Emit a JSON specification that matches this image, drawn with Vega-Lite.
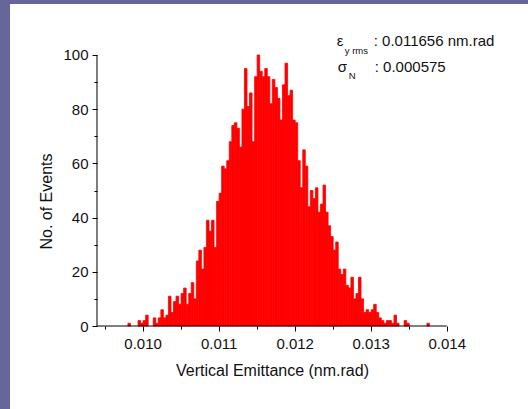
{
  "$schema": "https://vega.github.io/schema/vega-lite/v6.json",
  "autosize": {"type": "none"},
  "width": 518,
  "height": 405,
  "padding": {"left": 10, "top": 4, "right": 0, "bottom": 0},
  "background": "#66669a",
  "config": {
    "view": {"fill": "white", "stroke": null},
    "font": "Liberation Sans",
    "axis": {"grid": false, "domain": false, "labelFont": "Liberation Sans", "titleFont": "Liberation Sans", "labelColor": "#111", "titleColor": "#111", "tickColor": "#000", "tickWidth": 1, "titleFontWeight": "normal", "labelOverlap": false, "labelFlush": false, "labelBound": false},
    "text": {"align": "left", "baseline": "alphabetic", "color": "#111", "font": "Liberation Sans"}
  },
  "layer": [
    {
      "data": {"values": [
        {"emittance": 0.0098, "events": 1},
        {"emittance": 0.0099333, "events": 2},
        {"emittance": 0.0099667, "events": 1},
        {"emittance": 0.0100, "events": 2},
        {"emittance": 0.0100333, "events": 4},
        {"emittance": 0.0101333, "events": 3},
        {"emittance": 0.0101667, "events": 1},
        {"emittance": 0.0102, "events": 3},
        {"emittance": 0.0102333, "events": 6},
        {"emittance": 0.0102667, "events": 3},
        {"emittance": 0.0103, "events": 4},
        {"emittance": 0.0103333, "events": 11},
        {"emittance": 0.0103667, "events": 5},
        {"emittance": 0.0104, "events": 9},
        {"emittance": 0.0104333, "events": 11},
        {"emittance": 0.0104667, "events": 8},
        {"emittance": 0.0105, "events": 12},
        {"emittance": 0.0105333, "events": 14},
        {"emittance": 0.0105667, "events": 8},
        {"emittance": 0.0106, "events": 12},
        {"emittance": 0.0106333, "events": 16},
        {"emittance": 0.0106667, "events": 10},
        {"emittance": 0.0107, "events": 24},
        {"emittance": 0.0107333, "events": 28},
        {"emittance": 0.0107667, "events": 21},
        {"emittance": 0.0108, "events": 29},
        {"emittance": 0.0108333, "events": 39},
        {"emittance": 0.0108667, "events": 35},
        {"emittance": 0.0109, "events": 39},
        {"emittance": 0.0109333, "events": 29},
        {"emittance": 0.0109667, "events": 46},
        {"emittance": 0.0110, "events": 49},
        {"emittance": 0.0110333, "events": 59},
        {"emittance": 0.0110667, "events": 58},
        {"emittance": 0.0111, "events": 61},
        {"emittance": 0.0111333, "events": 68},
        {"emittance": 0.0111667, "events": 74},
        {"emittance": 0.0112, "events": 75},
        {"emittance": 0.0112333, "events": 73},
        {"emittance": 0.0112667, "events": 66},
        {"emittance": 0.0113, "events": 80},
        {"emittance": 0.0113333, "events": 95},
        {"emittance": 0.0113667, "events": 81},
        {"emittance": 0.0114, "events": 86},
        {"emittance": 0.0114333, "events": 68},
        {"emittance": 0.0114667, "events": 92},
        {"emittance": 0.0115, "events": 100},
        {"emittance": 0.0115333, "events": 94},
        {"emittance": 0.0115667, "events": 92},
        {"emittance": 0.0116, "events": 95},
        {"emittance": 0.0116333, "events": 92},
        {"emittance": 0.0116667, "events": 82},
        {"emittance": 0.0117, "events": 91},
        {"emittance": 0.0117333, "events": 88},
        {"emittance": 0.0117667, "events": 84},
        {"emittance": 0.0118, "events": 76},
        {"emittance": 0.0118333, "events": 89},
        {"emittance": 0.0118667, "events": 97},
        {"emittance": 0.0119, "events": 85},
        {"emittance": 0.0119333, "events": 87},
        {"emittance": 0.0119667, "events": 76},
        {"emittance": 0.0120, "events": 75},
        {"emittance": 0.0120333, "events": 61},
        {"emittance": 0.0120667, "events": 51},
        {"emittance": 0.0121, "events": 65},
        {"emittance": 0.0121333, "events": 59},
        {"emittance": 0.0121667, "events": 44},
        {"emittance": 0.0122, "events": 50},
        {"emittance": 0.0122333, "events": 47},
        {"emittance": 0.0122667, "events": 51},
        {"emittance": 0.0123, "events": 42},
        {"emittance": 0.0123333, "events": 45},
        {"emittance": 0.0123667, "events": 52},
        {"emittance": 0.0124, "events": 42},
        {"emittance": 0.0124333, "events": 37},
        {"emittance": 0.0124667, "events": 33},
        {"emittance": 0.0125, "events": 28},
        {"emittance": 0.0125333, "events": 31},
        {"emittance": 0.0125667, "events": 21},
        {"emittance": 0.0126, "events": 19},
        {"emittance": 0.0126333, "events": 21},
        {"emittance": 0.0126667, "events": 15},
        {"emittance": 0.0127, "events": 14},
        {"emittance": 0.0127333, "events": 18},
        {"emittance": 0.0127667, "events": 10},
        {"emittance": 0.0128, "events": 12},
        {"emittance": 0.0128333, "events": 18},
        {"emittance": 0.0128667, "events": 10},
        {"emittance": 0.0129, "events": 5},
        {"emittance": 0.0129333, "events": 6},
        {"emittance": 0.0129667, "events": 5},
        {"emittance": 0.0130, "events": 6},
        {"emittance": 0.0130333, "events": 8},
        {"emittance": 0.0130667, "events": 5},
        {"emittance": 0.0131, "events": 3},
        {"emittance": 0.0131333, "events": 2},
        {"emittance": 0.0131667, "events": 1},
        {"emittance": 0.0132, "events": 2},
        {"emittance": 0.0132333, "events": 2},
        {"emittance": 0.0132667, "events": 1},
        {"emittance": 0.0133, "events": 4},
        {"emittance": 0.0133333, "events": 1},
        {"emittance": 0.0134333, "events": 2},
        {"emittance": 0.0134667, "events": 1},
        {"emittance": 0.0137333, "events": 1}
      ]},
      "mark": {"type": "bar", "color": "#ff0000", "stroke": "#ff0000", "strokeWidth": 0.8, "binSpacing": 0},
      "encoding": {
        "x": {
          "field": "emittance", "type": "quantitative",
          "bin": {"binned": true, "step": 0.0000333333},
          "scale": {"domain": [0.0082556, 0.0150694], "nice": false, "zero": false},
          "axis": {
            "values": [0.0095, 0.010, 0.0105, 0.011, 0.0115, 0.012, 0.0125, 0.013, 0.0135, 0.014],
            "labelExpr": "round(datum.value*10000) % 10 == 0 ? format(datum.value, '.3f') : ''",
            "tickSize": {"condition": {"test": "round(datum.value*10000) % 10 == 0", "value": 5}, "value": 3},
            "offset": -83,
            "labelPadding": 5,
            "labelFontSize": 15,
            "title": "Vertical Emittance (nm.rad)",
            "titleFontSize": 16,
            "titlePadding": 11,
            "titleX": 262
          }
        },
        "y": {
          "field": "events", "type": "quantitative",
          "scale": {"domain": [-30.627, 118.819], "nice": false, "zero": false},
          "axis": {
            "values": [0, 10, 20, 30, 40, 50, 60, 70, 80, 90, 100],
            "labelExpr": "datum.value % 20 == 0 ? datum.label : ''",
            "tickSize": {"condition": {"test": "datum.value % 20 == 0", "value": 5}, "value": 3},
            "offset": -87,
            "labelPadding": 4,
            "labelFontSize": 15,
            "title": "No. of Events",
            "titleFontSize": 16,
            "titlePadding": 8,
            "titleY": 197
          }
        }
      }
    },
    {
      "data": {"values": [{}]},
      "mark": {"type": "rule", "color": "#000", "strokeWidth": 1},
      "encoding": {"x": {"datum": 0.0094}, "x2": {"datum": 0.014}, "y": {"datum": 0}}
    },
    {
      "data": {"values": [{}]},
      "mark": {"type": "rule", "color": "#000", "strokeWidth": 1},
      "encoding": {"x": {"datum": 0.0094}, "y": {"datum": 0}, "y2": {"datum": 100}}
    },
    {
      "data": {"values": [{}]},
      "mark": {"type": "text", "fontSize": 15, "text": "ε"},
      "encoding": {"x": {"datum": 0.0125543}, "y": {"datum": 103.14}}
    },
    {
      "data": {"values": [{}]},
      "mark": {"type": "text", "fontSize": 15, "text": ": 0.011656 nm.rad"},
      "encoding": {"x": {"datum": 0.0130406}, "y": {"datum": 103.14}}
    },
    {
      "data": {"values": [{}]},
      "mark": {"type": "text", "fontSize": 15, "text": "σ"},
      "encoding": {"x": {"datum": 0.0125675}, "y": {"datum": 93.73}}
    },
    {
      "data": {"values": [{}]},
      "mark": {"type": "text", "fontSize": 15, "text": ": 0.000575"},
      "encoding": {"x": {"datum": 0.0130538}, "y": {"datum": 93.73}}
    },
    {
      "data": {"values": [{}]},
      "mark": {"type": "text", "fontSize": 9.5, "text": "y rms"},
      "encoding": {"x": {"datum": 0.0126594}, "y": {"datum": 100.37}}
    },
    {
      "data": {"values": [{}]},
      "mark": {"type": "text", "fontSize": 9.5, "text": "N"},
      "encoding": {"x": {"datum": 0.0127120}, "y": {"datum": 91.14}}
    }
  ]
}
